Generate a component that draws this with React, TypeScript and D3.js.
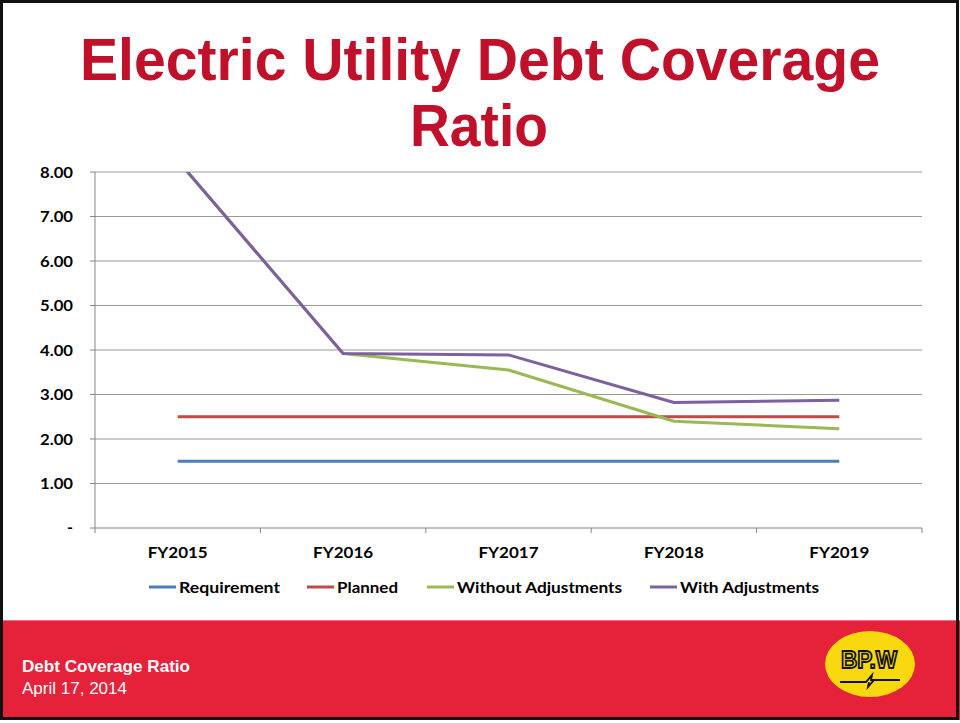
import React from "react";
import * as d3 from "d3";

const categories = ["FY2015", "FY2016", "FY2017", "FY2018", "FY2019"];
const requirement = [1.5, 1.5, 1.5, 1.5, 1.5];
const planned = [2.5, 2.5, 2.5, 2.5, 2.5];
const withoutAdj = [8.26, 3.92, 3.55, 2.4, 2.23];
const withAdj = [8.26, 3.92, 3.89, 2.82, 2.87];
const yTicks = [0, 1, 2, 3, 4, 5, 6, 7, 8];
const seriesNames = ["Requirement", "Planned", "Without Adjustments", "With Adjustments"];
const seriesColors = ["#4A7EBB", "#BE4B48", "#98B954", "#7D60A0"];

export default function App() {
  const W = 960, H = 723;
  const left = 95, right = 922, top = 172, bottom = 528;
  const x = d3.scaleBand().domain(categories).range([left, right]);
  const y = d3.scaleLinear().domain([0, 8]).range([bottom, top]);
  const series = [requirement, planned, withoutAdj, withAdj];
  const line = d3.line<number>()
    .x((_, i) => (x(categories[i]) as number) + x.bandwidth() / 2)
    .y((d) => y(d));
  const boundaries = categories.map((c) => x(c) as number).concat([right]);
  const legendX = [149, 307, 427, 650];
  const legendW = [101, 61, 165, 139];
  const font = "Lato, 'Open Sans', sans-serif";
  const arial = "'Liberation Sans', Arial, sans-serif";
  return (
    <svg width={W} height={H} style={{ position: "fixed", left: 0, top: 0, background: "#fff" }}>
      <defs>
        <clipPath id="plot">
          <rect x={left} y={top} width={right - left} height={bottom - top} />
        </clipPath>
      </defs>
      <rect x={0} y={0} width={W} height={H} fill="#fff" />
      <text x={480} y={80} textAnchor="middle" fill="#C0102A" fontFamily={arial}
        fontWeight="bold" fontSize={60} textLength={800} lengthAdjust="spacingAndGlyphs">
        Electric Utility Debt Coverage
      </text>
      <text x={479} y={146} textAnchor="middle" fill="#C0102A" fontFamily={arial}
        fontWeight="bold" fontSize={60} textLength={138} lengthAdjust="spacingAndGlyphs">
        Ratio
      </text>
      {yTicks.map((t) => (
        <g key={t}>
          <line x1={left} x2={right} y1={y(t)} y2={y(t)} stroke={t === 0 ? "#868686" : "#9a9a9a"} strokeWidth={1} />
          <line x1={left - 5} x2={left} y1={y(t)} y2={y(t)} stroke="#868686" />
          {t === 0 ? (
            <text x={73} y={y(t) + 5} textAnchor="end" fontFamily={font} fontWeight="bold" fontSize={16} fill="#000">-</text>
          ) : (
            <text x={73} y={y(t) + 5.5} textAnchor="end" fontFamily={font} fontWeight="bold" fontSize={16} fill="#000"
              textLength={33} lengthAdjust="spacingAndGlyphs">{d3.format(".2f")(t)}</text>
          )}
        </g>
      ))}
      <line x1={left} x2={left} y1={top} y2={bottom} stroke="#868686" />
      {boundaries.map((b, i) => (
        <line key={i} x1={b} x2={b} y1={bottom} y2={bottom + 5} stroke="#868686" />
      ))}
      {categories.map((c) => (
        <text key={c} x={(x(c) as number) + x.bandwidth() / 2} y={557.5} textAnchor="middle"
          fontFamily={font} fontWeight="bold" fontSize={16} fill="#000" textLength={60}
          lengthAdjust="spacingAndGlyphs">{c}</text>
      ))}
      <g clipPath="url(#plot)">
        {series.map((s, i) => (
          <path key={i} d={line(s) || ""} fill="none" stroke={seriesColors[i]} strokeWidth={3} strokeLinejoin="round" />
        ))}
      </g>
      {seriesNames.map((n, i) => (
        <g key={n}>
          <line x1={legendX[i]} x2={legendX[i] + 27} y1={587} y2={587} stroke={seriesColors[i]} strokeWidth={3} />
          <text x={legendX[i] + 30} y={592.5} fontFamily={font} fontWeight="bold" fontSize={16} fill="#000"
            textLength={legendW[i]} lengthAdjust="spacingAndGlyphs">{n}</text>
        </g>
      ))}
      <rect x={0} y={620} width={W} height={100} fill="#E6213A" />
      <line x1={0} x2={W} y1={620.5} y2={620.5} stroke="#F07080" strokeWidth={1} />
      <text x={22} y={672} fill="#fff" fontFamily={arial} fontWeight="bold" fontSize={17}
        textLength={168} lengthAdjust="spacingAndGlyphs">
        Debt Coverage Ratio
      </text>
      <text x={22} y={694} fill="#fff" fontFamily={arial} fontSize={17} textLength={105} lengthAdjust="spacingAndGlyphs">
        April 17, 2014
      </text>
      <ellipse cx={870} cy={664} rx={45} ry={33} fill="#F8D80E" />
      <text x={869} y={668} textAnchor="middle" fill="none" stroke="#111" strokeWidth={1.8} fontFamily={arial}
        fontWeight="bold" fontSize={24} textLength={56} lengthAdjust="spacingAndGlyphs">BP.W</text>
      <path d="M840,682 L866,682 L872,675 L871,680 L900,680 L874,680 L868,687 L869,682" fill="none" stroke="#111" strokeWidth={1.8} />
      <rect x={1.5} y={1.5} width={956} height={717} fill="none" stroke="#111" strokeWidth={3} />
    </svg>
  );
}
